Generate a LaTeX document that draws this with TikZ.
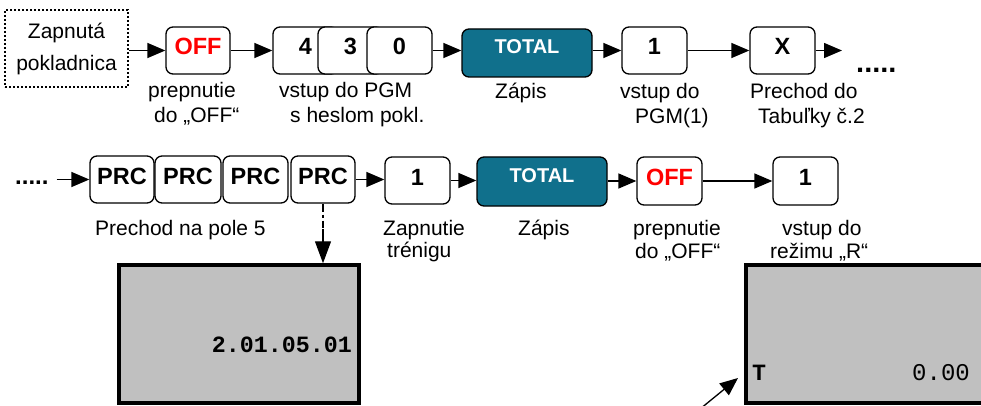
\documentclass[tikz,border=0pt]{standalone}
\usepackage{fontspec}
\setmainfont{Liberation Sans}
\newfontfamily\lcdfont{Liberation Mono}
\usetikzlibrary{arrows.meta}
\definecolor{keyteal}{RGB}{16,112,140}
\definecolor{lcdgray}{RGB}{192,192,192}
\definecolor{keyred}{RGB}{255,0,0}
\begin{document}
\begin{tikzpicture}[x=1pt,y=-1pt,
  key/.style={draw, line width=1.3pt, rounded corners=7pt, fill=white, inner sep=0pt,
    minimum width=65pt, minimum height=47pt,
    font=\fontsize{23.5}{28}\selectfont\bfseries, text height=17pt, text depth=8pt},
  offkey/.style={key, text=keyred},
  totalkey/.style={key, fill=keyteal, text=white, minimum width=130pt, minimum height=48pt,
    font=\fontsize{20}{24}\selectfont\bfseries, text height=14.3pt, text depth=13pt},
  conn/.style={line width=1.3pt, -{Triangle[length=18pt,width=15pt]}},
  lbl/.style={font=\fontsize{21}{24}\selectfont, inner sep=0pt, anchor=base west},
  dots/.style={inner sep=0pt, anchor=base west},
  lcd/.style={draw, line width=3.5pt, fill=lcdgray, inner sep=0pt},
  startbox/.style={draw, line width=1.5pt, dash pattern=on 2pt off 2pt, align=center,
    minimum width=123pt, minimum height=77pt, inner sep=0pt,
    font=\fontsize{21}{32}\selectfont}
]
\useasboundingbox (0,0) rectangle (981,406);
\begin{scope}
\clip (0,0) rectangle (981,406);

% ---------- row 1 ----------
\node[startbox] (start) at (66.5,48.5) {Zapnutá\\pokladnica};
\node[offkey, minimum width=64pt] (off1) at (198,50.5) {OFF};
\node[key] (k4) at (305.5,50.5) {4};
\node[key] (k3) at (350.5,50.5) {3};
\node[key] (k0) at (399.5,50.5) {0};
\node[totalkey] (total1) at (527,53) {TOTAL};
\node[key] (one1) at (654.5,50.5) {1};
\node[key] (x1) at (782.5,50.5) {X};
\coordinate (free1) at (842,50.5);
\node[dots, font=\fontsize{29}{30}\selectfont\bfseries] (dots1) at (856,73) {.....};

\draw[conn] (start.east |- off1.west) -- (off1.west);
\draw[conn] (off1.east) -- (k4.west);
\draw[conn] (k0.east) -- (k0.east -| total1.west);
\draw[conn] (one1.west -| total1.east) -- (one1.west);
\draw[conn] (one1.east) -- (x1.west);
\draw[conn] (x1.east) -- (free1);

\node[lbl] (l1a) at (148,98) {prepnutie};
\node[lbl] (l1b) at (154,123) {do „OFF“};
\node[lbl] (l2a) at (279,98) {vstup do PGM};
\node[lbl] (l2b) at (290,123) {s heslom pokl.};
\node[lbl] (l3) at (495,99) {Zápis};
\node[lbl] (l4a) at (620,99) {vstup do};
\node[lbl] (l4b) at (635,124) {PGM(1)};
\node[lbl] (l5a) at (750,99) {Prechod do};
\node[lbl] (l5b) at (758,124) {Tabuľky č.2};

% ---------- row 2 ----------
\node[dots, font=\fontsize{24}{26}\selectfont\bfseries] (dots2) at (15,184) {.....};
\node[key, minimum width=64pt] (prc1) at (122,179.5) {PRC};
\node[key, minimum width=66pt] (prc2) at (188,179.5) {PRC};
\node[key] (prc3) at (255.5,179.5) {PRC};
\node[key, minimum width=64pt] (prc4) at (323,179.5) {PRC};
\node[key] (one2) at (417.5,180.5) {1};
\node[totalkey, minimum height=49pt] (total2) at (542,181.5) {TOTAL};
\node[offkey, minimum height=48pt] (off2) at (669.5,181) {OFF};
\node[key, minimum height=48pt] (one3) at (805.5,181) {1};

\draw[conn] (dots2.east |- prc1.west) ++(8,0) coordinate (d2s) -- (prc1.west);
\draw[conn] (prc4.east) -- (prc4.east -| one2.west);
\draw[conn] (one2.east) -- (one2.east -| total2.west);
\draw[conn] (total2.east |- off2.west) -- (off2.west);
\draw[conn] (off2.east) -- (one3.west);

\node[lbl] (m1) at (95,235) {Prechod na pole 5};
\node[lbl] (m2a) at (383,235) {Zapnutie};
\node[lbl] (m2b) at (387,257) {trénigu};
\node[lbl] (m3) at (518,235) {Zápis};
\node[lbl] (m4a) at (633,235) {prepnutie};
\node[lbl] (m4b) at (635,258) {do „OFF“};
\node[lbl] (m5a) at (782,235) {vstup do};
\node[lbl] (m5b) at (770,258) {režimu „R“};

% ---------- displays ----------
\node[lcd, minimum width=240pt, minimum height=138pt] (disp1) at (239,334) {};
\node[lcd, minimum width=254pt, minimum height=138pt] (disp2) at (873,334) {};
\node[anchor=base east, inner sep=0pt, font=\lcdfont\fontsize{23.3}{28}\selectfont\bfseries] (d1txt) at (352,352) {2.01.05.01};
\node[anchor=base west, inner sep=0pt, font=\lcdfont\fontsize{23.3}{28}\selectfont\bfseries] (d2t) at (752,380) {T};
\node[anchor=base east, inner sep=0pt, font=\lcdfont\fontsize{24}{28}\selectfont] (d2v) at (970,380) {0.00};

\draw[line width=1.3pt, dash pattern=on 8pt off 3pt on 3pt off 3pt on 7pt off 1pt on 80pt,
  -{Triangle[length=22pt,width=16pt]}] (prc4.south) -- (prc4.south |- disp1.north);

\coordinate (ptail) at (700,409);
\coordinate (phead) at (738,378);
\draw[conn] (ptail) -- (phead);
\end{scope}
\end{tikzpicture}
\end{document}
